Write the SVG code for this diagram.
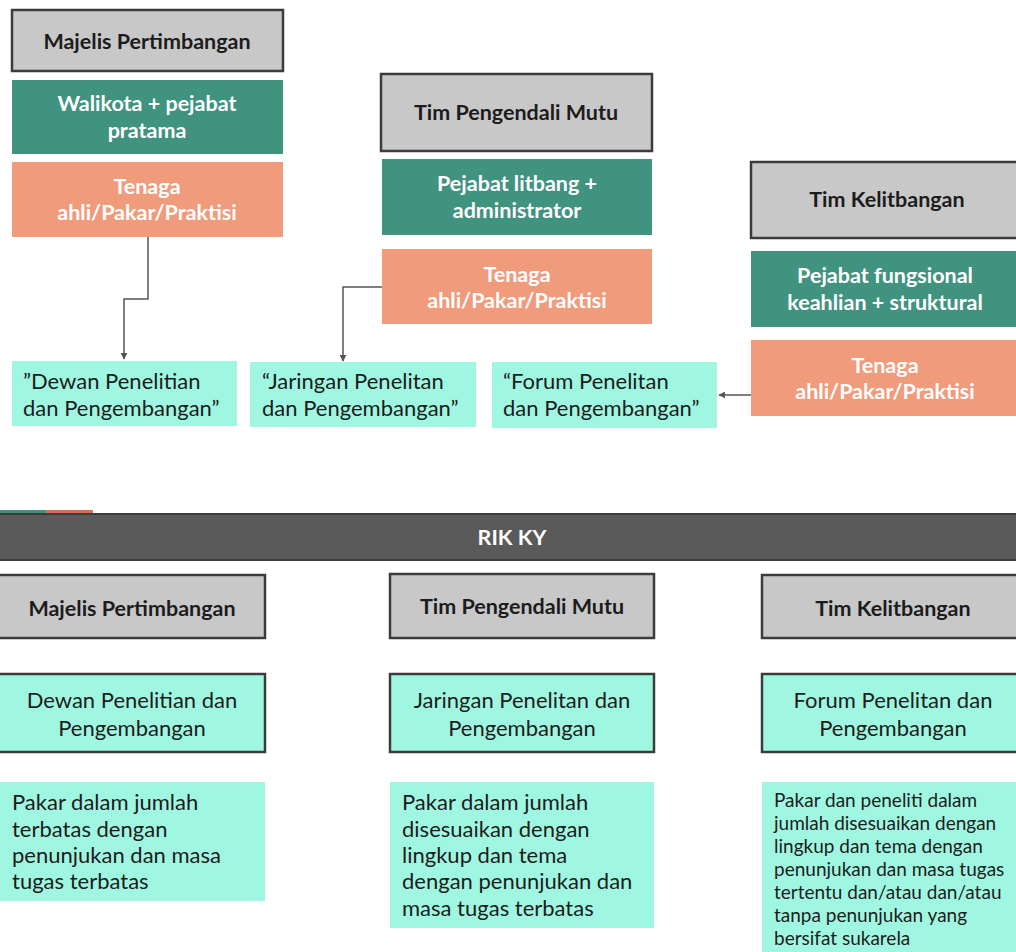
<svg xmlns="http://www.w3.org/2000/svg" width="1016" height="952" viewBox="0 0 1016 952">
<defs>
<style>
text{font-family:Lato,"Open Sans","Liberation Sans",sans-serif}
.gray{fill:#c8c8c8;stroke:#3c3c3c;stroke-width:2.5}
.teal{fill:#40937f}
.orange{fill:#ef9b7c}
.mint{fill:#a0f7e1}
.mintb{fill:#a0f7e1;stroke:#3c3c3c;stroke-width:2.5}
.dark{fill:#5a5a5a;stroke:#3c3c3c;stroke-width:2}
.th{font-size:21.5px;font-weight:bold;fill:#1c1c1c;text-anchor:middle}
.tw{font-size:21.5px;font-weight:bold;fill:#ffffff;text-anchor:middle}
.tm{font-size:22px;fill:#1c1c1c}
.tc{font-size:22px;fill:#1c1c1c;text-anchor:middle}
.ts{font-size:19px;fill:#1c1c1c}
.conn{fill:none;stroke:#555;stroke-width:1.5}
</style>
<marker id="arr" viewBox="0 0 10 10" refX="9" refY="5" markerWidth="7" markerHeight="7" orient="auto" markerUnits="userSpaceOnUse">
<path d="M0,0 L10,5 L0,10 z" fill="#555"/>
</marker>
</defs>
<rect width="1016" height="952" fill="#ffffff"/>

<g id="connectors">
<path class="conn" d="M148,237 V299 H124 V359" marker-end="url(#arr)"/>
<path class="conn" d="M382,287 H343 V361" marker-end="url(#arr)"/>
<path class="conn" d="M751,395 H719" marker-end="url(#arr)"/>
</g>

<g id="mp-top"><rect class="gray" x="12" y="10" width="271" height="61"/><text class="th" x="147" y="49">Majelis Pertimbangan</text></g>
<g id="walikota"><rect class="teal" x="12" y="80" width="271" height="74"/><text class="tw" x="147" y="111">Walikota + pejabat</text><text class="tw" x="147" y="138">pratama</text></g>
<g id="tenaga1"><rect class="orange" x="12" y="162" width="271" height="75"/><text class="tw" x="147" y="194">Tenaga</text><text class="tw" x="147" y="220">ahli/Pakar/Praktisi</text></g>

<g id="tpm-top"><rect class="gray" x="381" y="74" width="271" height="77"/><text class="th" x="516" y="120">Tim Pengendali Mutu</text></g>
<g id="litbang"><rect class="teal" x="382" y="159" width="270" height="76"/><text class="tw" x="517" y="191">Pejabat litbang +</text><text class="tw" x="517" y="218">administrator</text></g>
<g id="tenaga2"><rect class="orange" x="382" y="249" width="270" height="75"/><text class="tw" x="517" y="282">Tenaga</text><text class="tw" x="517" y="308">ahli/Pakar/Praktisi</text></g>

<g id="tk-top"><rect class="gray" x="751" y="162" width="268" height="76"/><text class="th" x="887" y="207">Tim Kelitbangan</text></g>
<g id="fungsional"><rect class="teal" x="751" y="251" width="265" height="76"/><text class="tw" x="885" y="283">Pejabat fungsional</text><text class="tw" x="885" y="310">keahlian + struktural</text></g>
<g id="tenaga3"><rect class="orange" x="751" y="340" width="265" height="76"/><text class="tw" x="885" y="373">Tenaga</text><text class="tw" x="885" y="399">ahli/Pakar/Praktisi</text></g>

<g id="dewan-top"><rect class="mint" x="12" y="361" width="225" height="65"/><text class="tm" x="23" y="389">”Dewan Penelitian</text><text class="tm" x="23" y="416">dan Pengembangan”</text></g>
<g id="jaringan-top"><rect class="mint" x="250" y="362" width="226" height="65"/><text class="tm" x="262" y="389">“Jaringan Penelitan</text><text class="tm" x="262" y="416">dan Pengembangan”</text></g>
<g id="forum-top"><rect class="mint" x="492" y="362" width="225" height="66"/><text class="tm" x="503" y="389">“Forum Penelitan</text><text class="tm" x="503" y="416">dan Pengembangan”</text></g>

<g id="accent"><rect x="0" y="510" width="46" height="3" fill="#40937f"/><rect x="46" y="510" width="47" height="3" fill="#d9704f"/></g>
<g id="rikky"><rect class="dark" x="-2" y="514" width="1020" height="46"/><text class="tw" x="512" y="545">RIK KY</text></g>

<g id="mp-bot"><rect class="gray" x="-2" y="575" width="267" height="63"/><text class="th" x="132" y="616">Majelis Pertimbangan</text></g>
<g id="tpm-bot"><rect class="gray" x="390" y="574" width="264" height="64"/><text class="th" x="522" y="614">Tim Pengendali Mutu</text></g>
<g id="tk-bot"><rect class="gray" x="762" y="575" width="256" height="63"/><text class="th" x="893" y="616">Tim Kelitbangan</text></g>

<g id="dewan-bot"><rect class="mintb" x="-2" y="674" width="267" height="78"/><text class="tc" x="132" y="708">Dewan Penelitian dan</text><text class="tc" x="132" y="736">Pengembangan</text></g>
<g id="jaringan-bot"><rect class="mintb" x="390" y="674" width="264" height="78"/><text class="tc" x="522" y="708">Jaringan Penelitan dan</text><text class="tc" x="522" y="736">Pengembangan</text></g>
<g id="forum-bot"><rect class="mintb" x="762" y="674" width="256" height="78"/><text class="tc" x="893" y="708">Forum Penelitan dan</text><text class="tc" x="893" y="736">Pengembangan</text></g>

<g id="desc1"><rect class="mint" x="0" y="782" width="265" height="119"/>
<text class="tm" x="12" y="810">Pakar dalam jumlah</text><text class="tm" x="12" y="837">terbatas dengan</text><text class="tm" x="12" y="863">penunjukan dan masa</text><text class="tm" x="12" y="889">tugas terbatas</text></g>
<g id="desc2"><rect class="mint" x="390" y="782" width="264" height="146"/>
<text class="tm" x="402" y="810">Pakar dalam jumlah</text><text class="tm" x="402" y="837">disesuaikan dengan</text><text class="tm" x="402" y="863">lingkup dan tema</text><text class="tm" x="402" y="889">dengan penunjukan dan</text><text class="tm" x="402" y="916">masa tugas terbatas</text></g>
<g id="desc3"><rect class="mint" x="762" y="782" width="254" height="170"/>
<text class="ts" x="774" y="807">Pakar dan peneliti dalam</text><text class="ts" x="774" y="830">jumlah disesuaikan dengan</text><text class="ts" x="774" y="853">lingkup dan tema dengan</text><text class="ts" x="774" y="876">penunjukan dan masa tugas</text><text class="ts" x="774" y="899">tertentu dan/atau dan/atau</text><text class="ts" x="774" y="922">tanpa penunjukan yang</text><text class="ts" x="774" y="945">bersifat sukarela</text></g>
</svg>
